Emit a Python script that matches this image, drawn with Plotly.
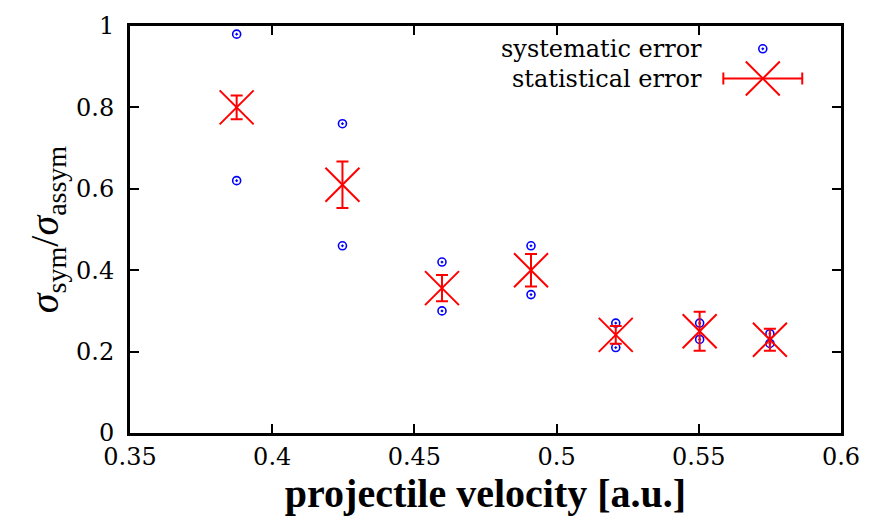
import plotly.graph_objects as go

# statistical error series
velocity = [0.3875, 0.4247, 0.4597, 0.491, 0.5208, 0.5503, 0.575]
ratio = [0.80, 0.61, 0.356, 0.40, 0.241, 0.25, 0.229]
stat_err = [0.029, 0.057, 0.032, 0.040, 0.022, 0.048, 0.027]

# systematic error bounds (upper / lower)
sys_upper = [0.98, 0.76, 0.42, 0.46, 0.27, 0.27, 0.244]
sys_lower = [0.62, 0.46, 0.30, 0.34, 0.21, 0.23, 0.22]

x_ticks = [0.35, 0.4, 0.45, 0.5, 0.55, 0.6]
y_ticks = [0, 0.2, 0.4, 0.6, 0.8, 1]

SERIF = "DejaVu Serif"
TIMES = "Times New Roman"
BLUE = "#0000ff"
RED = "#ff0000"

fig = go.Figure()

fig.add_trace(go.Scatter(
    x=velocity + velocity, y=sys_upper + sys_lower, mode="markers",
    marker=dict(symbol="circle-open-dot", size=8, color=BLUE, line=dict(width=1.6, color=BLUE)),
    showlegend=False))

fig.add_trace(go.Scatter(
    x=velocity, y=ratio, mode="markers",
    marker=dict(symbol="x-thin-open", size=34, color=RED, line=dict(width=2, color=RED)),
    error_y=dict(type="data", array=stat_err, color=RED, thickness=2, width=6),
    showlegend=False))

# legend samples on an overlay axis in plot-fraction coordinates
fig.add_trace(go.Scatter(
    x=[0.89], y=[0.944], mode="markers", xaxis="x2", yaxis="y2",
    marker=dict(symbol="circle-open-dot", size=8, color=BLUE, line=dict(width=1.6, color=BLUE)),
    showlegend=False, hoverinfo="skip"))
fig.add_trace(go.Scatter(
    x=[0.89], y=[0.871], mode="markers", xaxis="x2", yaxis="y2",
    marker=dict(symbol="x-thin-open", size=34, color=RED, line=dict(width=2, color=RED)),
    error_x=dict(type="constant", value=0.0555, color=RED, thickness=2, width=6),
    showlegend=False, hoverinfo="skip"))

axis_common = dict(
    showline=True, linecolor="black", linewidth=3, mirror="ticks",
    ticks="inside", ticklen=9, tickwidth=2, tickcolor="black",
    showgrid=False, zeroline=False,
    tickfont=dict(family=SERIF, size=24, color="black"),
)

fig.update_layout(
    width=872, height=520,
    margin=dict(l=130, r=22, t=22, b=87),
    plot_bgcolor="white", paper_bgcolor="white",
    font=dict(family=SERIF, color="black"),
    xaxis=dict(range=[0.35, 0.6], tickvals=x_ticks,
               ticktext=[f"{v:g}" for v in x_ticks],
               title=dict(text="<b>projectile velocity [a.u.]</b>",
                          font=dict(family=TIMES, size=40, color="black"), standoff=2),
               **axis_common),
    yaxis=dict(range=[0, 1], tickvals=y_ticks,
               ticktext=[f"{v:g}" for v in y_ticks],
               ticklabelstandoff=8,
               title=dict(text="<i>σ</i><sub>sym</sub>/<i>σ</i><sub>assym</sub>",
                          font=dict(family=TIMES, size=40, color="black"), standoff=6),
               **axis_common),
    xaxis2=dict(overlaying="x", range=[0, 1], visible=False, fixedrange=True),
    yaxis2=dict(overlaying="y", range=[0, 1], visible=False, fixedrange=True),
    annotations=[
        dict(text="systematic error", xref="paper", yref="paper", x=0.807, y=0.944,
             xanchor="right", yanchor="middle", showarrow=False,
             font=dict(family=SERIF, size=24, color="black")),
        dict(text="statistical error", xref="paper", yref="paper", x=0.807, y=0.871,
             xanchor="right", yanchor="middle", showarrow=False,
             font=dict(family=SERIF, size=24, color="black")),
    ],
)

fig.write_html("out.html")
